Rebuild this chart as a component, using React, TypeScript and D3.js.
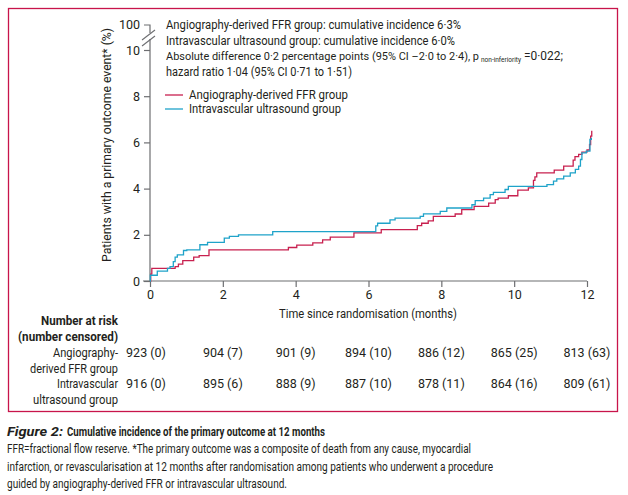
import { useEffect, useRef } from 'react';
import * as d3 from 'd3';

const monthTicks = [0, 2, 4, 6, 8, 10, 12];
const yTicks = [0, 2, 4, 6, 8, 10];

// step points (months, cumulative incidence %)
const ffrMonths = [0, 0.02, 0.05, 0.69, 0.78, 0.9, 1.2, 1.35, 1.62, 3.8, 4.03, 4.47, 4.74, 4.95, 5.6, 6.35, 7.34, 7.46, 7.64, 7.78, 8.38, 8.56, 8.9, 9.3, 9.48, 9.56, 9.84, 10.1, 10.39, 10.53, 10.57, 10.62, 11.1, 11.36, 11.62, 11.67, 11.77, 11.86, 12.0, 12.07, 12.1, 12.13];
const ffrValues = [0, 0.3, 0.55, 0.62, 0.73, 0.88, 1.03, 1.1, 1.35, 1.45, 1.55, 1.65, 1.78, 1.9, 2.08, 2.22, 2.4, 2.5, 2.6, 2.8, 2.9, 3.09, 3.23, 3.37, 3.52, 3.59, 3.69, 3.93, 4.03, 4.36, 4.51, 4.68, 4.8, 4.97, 5.23, 5.38, 5.48, 5.58, 5.67, 5.91, 6.27, 6.5];

const ivusMonths = [0, 0.01, 0.2, 0.48, 0.55, 0.64, 0.69, 0.75, 0.92, 1.01, 1.37, 1.58, 2.04, 2.18, 2.43, 3.37, 6.2, 6.25, 6.59, 6.73, 7.42, 7.51, 7.97, 8.15, 8.84, 8.93, 9.16, 9.34, 9.43, 9.75, 9.84, 10.9, 11.08, 11.17, 11.36, 11.54, 11.68, 11.77, 11.82, 11.86, 11.98, 12.08, 12.12];
const ivusValues = [0, 0.25, 0.43, 0.55, 0.62, 0.84, 1.03, 1.13, 1.32, 1.35, 1.57, 1.67, 1.86, 1.93, 2.0, 2.14, 2.39, 2.5, 2.65, 2.72, 2.8, 2.91, 3.01, 3.16, 3.3, 3.48, 3.59, 3.74, 3.84, 3.96, 4.1, 4.17, 4.32, 4.42, 4.54, 4.68, 4.83, 4.97, 5.26, 5.55, 5.62, 6.13, 6.2];

const ffrAtRisk = ['923 (0)', '904 (7)', '901 (9)', '894 (10)', '886 (12)', '865 (25)', '813 (63)'];
const ivusAtRisk = ['916 (0)', '895 (6)', '888 (9)', '887 (10)', '878 (11)', '864 (16)', '809 (61)'];

const annotation = [
  'Angiography-derived FFR group: cumulative incidence 6·3%',
  'Intravascular ultrasound group: cumulative incidence 6·0%',
];

const legendNames = ['Angiography-derived FFR group', 'Intravascular ultrasound group'];

const captionLines = [
  'FFR=fractional flow reserve. *The primary outcome was a composite of death from any cause, myocardial',
  'infarction, or revascularisation at 12 months after randomisation among patients who underwent a procedure',
  'guided by angiography-derived FFR or intravascular ultrasound.',
];

const RED = '#c8204f';
const BLUE = '#1fa3c9';
const FRAME = '#c8144b';
const AXIS = '#6d6e71';
const INK = '#231f20';
const FONT = "Roboto, 'Open Sans', sans-serif";

// squeeze a text to the width it has in the figure
function fit(sel: any, w: number) {
  return sel.attr('textLength', w).attr('lengthAdjust', 'spacingAndGlyphs');
}

export default function App() {
  const svgRef = useRef<SVGSVGElement>(null);

  useEffect(() => {
    if (!svgRef.current) return;
    const svg = d3.select(svgRef.current);
    svg.selectAll('*').remove();

    const x = d3.scaleLinear().domain([0, 12]).range([150, 587]);
    const y = d3.scaleLinear().domain([0, 10]).range([281, 50]);
    const y100 = 25;

    // frame
    svg.append('rect')
      .attr('x', 8.5).attr('y', 8.5).attr('width', 609).attr('height', 403)
      .attr('fill', 'none').attr('stroke', FRAME).attr('stroke-width', 1.3);

    const g = svg.append('g').attr('font-family', FONT).attr('fill', INK);

    // y axis (broken)
    const yAxis = g.append('g')
      .attr('transform', 'translate(150,0)')
      .call(d3.axisLeft(y).tickValues(yTicks).tickSize(6).tickPadding(4).tickFormat(d3.format('d')));
    yAxis.select('.domain').remove();
    yAxis.selectAll('line').attr('stroke', AXIS).attr('stroke-width', 1.2);
    yAxis.selectAll('text').attr('font-size', 12.5).attr('font-family', FONT).attr('fill', INK);

    g.append('line').attr('x1', 150).attr('x2', 150).attr('y1', 39).attr('y2', y(0))
      .attr('stroke', AXIS).attr('stroke-width', 1.2);
    g.append('path').attr('d', `M144,${y100}H150V33`)
      .attr('fill', 'none').attr('stroke', AXIS).attr('stroke-width', 1.2);
    g.append('line').attr('x1', 142).attr('y1', 40).attr('x2', 155).attr('y2', 30)
      .attr('stroke', AXIS).attr('stroke-width', 1.1);
    g.append('line').attr('x1', 142).attr('y1', 46).attr('x2', 155).attr('y2', 36)
      .attr('stroke', AXIS).attr('stroke-width', 1.1);
    g.append('text').attr('x', 140).attr('y', y100 + 4).attr('text-anchor', 'end')
      .attr('font-size', 12.5).text('100');

    // x axis
    const xAxis = g.append('g')
      .attr('transform', `translate(0,${y(0)})`)
      .call(d3.axisBottom(x).tickValues(monthTicks).tickSize(6).tickPadding(3).tickFormat(d3.format('d')));
    xAxis.select('.domain').attr('d', `M${x(0) - 7},0H${x(12)}`).attr('stroke', AXIS).attr('stroke-width', 1.2);
    xAxis.selectAll('line').attr('stroke', AXIS).attr('stroke-width', 1.2);
    xAxis.selectAll('text').attr('font-size', 12.5).attr('font-family', FONT).attr('fill', INK);

    fit(g.append('text').attr('x', 279).attr('y', 318).attr('font-size', 12)
      .text('Time since randomisation (months)'), 178);

    fit(g.append('text')
      .attr('transform', 'translate(111,262) rotate(-90)')
      .attr('font-size', 12)
      .text('Patients with a primary outcome event* (%)'), 234);

    // curves
    const line = d3.line<[number, number]>()
      .x(d => x(d[0])).y(d => y(d[1]))
      .curve(d3.curveStepAfter);
    const series = [
      { pts: ffrMonths.map((m, i) => [m, ffrValues[i]] as [number, number]), color: RED },
      { pts: ivusMonths.map((m, i) => [m, ivusValues[i]] as [number, number]), color: BLUE },
    ];
    series.forEach(s => {
      g.append('path').attr('d', line(s.pts)).attr('fill', 'none')
        .attr('stroke', s.color).attr('stroke-width', 1.3);
    });

    // annotation
    const annW = [295, 289];
    annotation.forEach((t, i) => {
      fit(g.append('text').attr('x', 166).attr('y', 29 + i * 15.5).attr('font-size', 12).text(t), annW[i]);
    });
    const main3 = g.append('text').attr('x', 166).attr('y', 60).attr('font-size', 12)
      .text('Absolute difference 0·2 percentage points (95% CI –2·0 to 2·4), p');
    const natural = (main3.node() as SVGTextElement).getComputedTextLength();
    if (natural > 312) main3.attr('font-size', 12 * 312 / natural);
    fit(main3, 313);
    fit(g.append('text').attr('x', 481).attr('y', 62).attr('font-size', 6.5)
      .text('non-inferiority'), 40);
    fit(g.append('text').attr('x', 524).attr('y', 60).attr('font-size', 12)
      .text('=0·022;'), 39);
    fit(g.append('text').attr('x', 166).attr('y', 75.5).attr('font-size', 12)
      .text('hazard ratio 1·04 (95% CI 0·71 to 1·51)'), 186);

    // legend
    const legW = [159, 152];
    legendNames.forEach((name, i) => {
      const ly = 95 + i * 14;
      g.append('line').attr('x1', 165).attr('x2', 183).attr('y1', ly).attr('y2', ly)
        .attr('stroke', i === 0 ? RED : BLUE).attr('stroke-width', 1.3);
      fit(g.append('text').attr('x', 189).attr('y', ly + 4).attr('font-size', 12).text(name), legW[i]);
    });

    // number at risk
    fit(g.append('text').attr('x', 41).attr('y', 325)
      .attr('font-size', 12).attr('font-weight', 'bold').text('Number at risk'), 77);
    fit(g.append('text').attr('x', 18).attr('y', 341)
      .attr('font-size', 12).attr('font-weight', 'bold').text('(number censored)'), 100);
    const groupLabels = [['Angiography-', 'derived FFR group'], ['Intravascular', 'ultrasound group']];
    const groupW = [[65, 88], [61, 85]];
    groupLabels.forEach((lab, i) => {
      lab.forEach((t, j) => {
        fit(g.append('text').attr('x', 118 - groupW[i][j]).attr('y', 357 + i * 31 + j * 15.5)
          .attr('font-size', 12).text(t), groupW[i][j]);
      });
    });
    [ffrAtRisk, ivusAtRisk].forEach((row, i) => {
      g.append('g').selectAll('text').data(row).join('text')
        .attr('x', (_, j) => x(monthTicks[j]) - (j === 0 ? 4 : 0))
        .attr('y', 357 + i * 31)
        .attr('text-anchor', 'middle').attr('font-size', 12.5)
        .text(d => d);
    });

    // caption
    fit(g.append('text').attr('x', 7).attr('y', 436).attr('font-size', 13)
      .attr('font-weight', 'bold').attr('font-style', 'italic').text('Figure 2:'), 56);
    fit(g.append('text').attr('x', 67).attr('y', 436).attr('font-size', 13)
      .attr('font-weight', 'bold').text('Cumulative incidence of the primary outcome at 12 months'), 258);
    const capW = [464, 486, 280];
    captionLines.forEach((t, i) => {
      fit(g.append('text').attr('x', 7).attr('y', 453 + i * 17.5).attr('font-size', 12.5)
        .attr('fill', INK).text(t), capW[i]);
    });
  }, []);

  return (
    <svg ref={svgRef} width={628} height={495}
      style={{ position: 'absolute', left: 0, top: 0, background: '#fff' }} />
  );
}
